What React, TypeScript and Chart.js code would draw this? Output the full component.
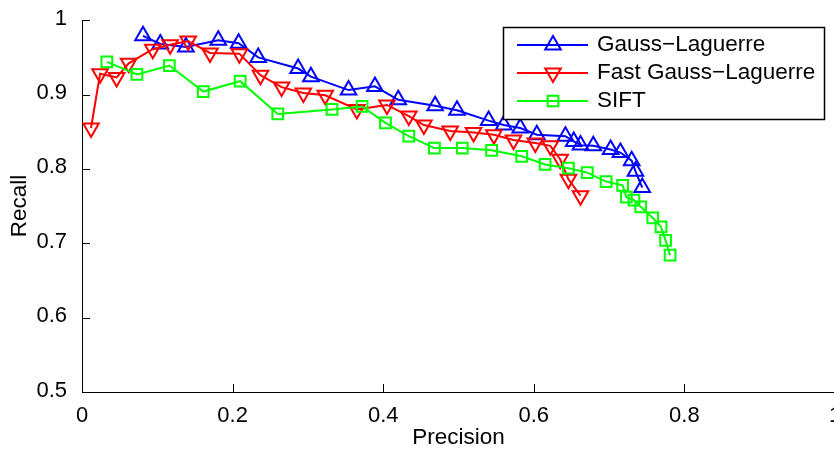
import React, { useEffect, useRef } from 'react';
import { Chart, registerables } from 'chart.js';
import { drawPoint } from 'chart.js/helpers';

Chart.register(...registerables);

const seriesLabels = ['Gauss\u2212Laguerre', 'Fast Gauss\u2212Laguerre', 'SIFT'];
const seriesColors = ['#0000ff', '#ff0000', '#00ff00'];

const gaussPrecision = [0.081, 0.104, 0.138, 0.181, 0.208, 0.234, 0.287, 0.304, 0.354, 0.389, 0.420, 0.469, 0.498, 0.540, 0.560, 0.582, 0.604, 0.642, 0.653, 0.662, 0.679, 0.702, 0.715, 0.730, 0.735, 0.744];
const gaussRecall = [0.979, 0.968, 0.964, 0.973, 0.969, 0.950, 0.935, 0.924, 0.906, 0.911, 0.893, 0.885, 0.879, 0.865, 0.859, 0.855, 0.846, 0.844, 0.837, 0.832, 0.831, 0.826, 0.822, 0.811, 0.797, 0.775];

const fastPrecision = [0.012, 0.024, 0.046, 0.062, 0.094, 0.117, 0.141, 0.170, 0.209, 0.237, 0.265, 0.294, 0.323, 0.365, 0.405, 0.434, 0.454, 0.489, 0.520, 0.547, 0.573, 0.602, 0.622, 0.635, 0.646, 0.662];
const fastRecall = [0.855, 0.928, 0.923, 0.942, 0.961, 0.967, 0.972, 0.956, 0.955, 0.926, 0.910, 0.902, 0.899, 0.880, 0.886, 0.871, 0.859, 0.851, 0.849, 0.846, 0.839, 0.835, 0.831, 0.813, 0.786, 0.764];

const siftPrecision = [0.033, 0.073, 0.116, 0.161, 0.210, 0.260, 0.332, 0.372, 0.403, 0.434, 0.468, 0.505, 0.544, 0.584, 0.615, 0.646, 0.671, 0.696, 0.718, 0.723, 0.733, 0.742, 0.758, 0.769, 0.775, 0.781];
const siftRecall = [0.944, 0.927, 0.939, 0.904, 0.918, 0.874, 0.880, 0.884, 0.862, 0.844, 0.828, 0.828, 0.825, 0.817, 0.806, 0.801, 0.795, 0.783, 0.778, 0.762, 0.758, 0.749, 0.734, 0.722, 0.704, 0.684];

const xTickValues = [0, 0.2, 0.4, 0.6, 0.8, 1];
const xTickLabels = ['0', '0.2', '0.4', '0.6', '0.8', '1'];
const yTickValues = [0.5, 0.6, 0.7, 0.8, 0.9, 1];
const yTickLabels = ['0.5', '0.6', '0.7', '0.8', '0.9', '1'];

const FONT = "'Liberation Sans', Arial, Helvetica, sans-serif";
const CANVAS_W = 880;
const CANVAS_H = 450;

const toPoints = (xs: number[], ys: number[]) => xs.map((x, i) => ({ x, y: ys[i] }));

const markerStyles = [
  { pointStyle: 'triangle', rotation: 0, radius: 9 },
  { pointStyle: 'triangle', rotation: 180, radius: 9 },
  { pointStyle: 'rect', rotation: 0, radius: 7.6 },
];

const inwardTicks = {
  id: 'inwardTicks',
  afterDatasetsDraw(chart: any) {
    const { ctx, scales, chartArea } = chart;
    const xs = scales.x;
    const ys = scales.y;
    ctx.save();
    ctx.strokeStyle = '#000';
    ctx.lineWidth = 1;
    ctx.beginPath();
    xs.ticks.forEach((t: any) => {
      const px = Math.round(xs.getPixelForValue(t.value)) + 0.5;
      ctx.moveTo(px, chartArea.bottom);
      ctx.lineTo(px, chartArea.bottom - 8);
    });
    ys.ticks.forEach((t: any) => {
      const py = Math.round(ys.getPixelForValue(t.value)) + 0.5;
      ctx.moveTo(chartArea.left, py);
      ctx.lineTo(chartArea.left + 8, py);
    });
    ctx.stroke();
    ctx.restore();
  },
};

const boxLegend = {
  id: 'boxLegend',
  afterDraw(chart: any) {
    const { ctx } = chart;
    const left = 503.5, top = 27.5, w = 321, h = 92;
    ctx.save();
    ctx.fillStyle = '#fff';
    ctx.fillRect(left, top, w, h);
    ctx.strokeStyle = '#000';
    ctx.lineWidth = 1.5;
    ctx.strokeRect(left, top, w, h);
    const rows = [45, 73, 101];
    chart.data.datasets.forEach((ds: any, i: number) => {
      const y = rows[i];
      ctx.strokeStyle = ds.borderColor;
      ctx.lineWidth = 2;
      ctx.beginPath();
      ctx.moveTo(517, y);
      ctx.lineTo(588, y);
      ctx.stroke();
      ctx.fillStyle = 'rgba(0,0,0,0)';
      const m = markerStyles[i];
      drawPoint(ctx, { pointStyle: m.pointStyle as any, rotation: m.rotation, radius: m.radius, borderWidth: 2 }, 553, y);
      ctx.fillStyle = '#000';
      ctx.font = `22.5px ${FONT}`;
      ctx.textAlign = 'left';
      ctx.textBaseline = 'middle';
      ctx.fillText(ds.label, 597, y);
    });
    ctx.restore();
  },
};

export default function App() {
  const canvasRef = useRef<HTMLCanvasElement | null>(null);

  useEffect(() => {
    if (!canvasRef.current) return;
    const series = [
      toPoints(gaussPrecision, gaussRecall),
      toPoints(fastPrecision, fastRecall),
      toPoints(siftPrecision, siftRecall),
    ];
    const chart = new Chart(canvasRef.current, {
      type: 'line',
      data: {
        datasets: series.map((pts, i) => ({
          label: seriesLabels[i],
          data: pts,
          borderColor: seriesColors[i],
          backgroundColor: 'rgba(0,0,0,0)',
          borderWidth: 2,
          pointStyle: markerStyles[i].pointStyle as any,
          pointRotation: markerStyles[i].rotation,
          pointRadius: markerStyles[i].radius,
          pointBorderWidth: 2,
          pointBorderColor: seriesColors[i],
          pointBackgroundColor: 'rgba(0,0,0,0)',
          tension: 0,
          fill: false,
          order: 3 - i,
        })),
      },
      options: {
        responsive: false,
        animation: false,
        devicePixelRatio: 1,
        layout: { padding: { top: 16, left: 0, right: CANVAS_W - 835, bottom: 0 } },
        plugins: {
          legend: { display: false },
          tooltip: { enabled: false },
          title: { display: false },
        },
        scales: {
          x: {
            type: 'linear',
            min: 0,
            max: 1,
            afterBuildTicks: (s: any) => {
              s.ticks = xTickValues.map((v) => ({ value: v }));
            },
            afterFit: (s: any) => {
              s.height = CANVAS_H - 392;
            },
            grid: { display: false },
            border: { display: true, color: '#000', width: 1 },
            ticks: {
              color: '#000',
              padding: 3,
              maxRotation: 0,
              autoSkip: false,
              font: { family: FONT, size: 22 },
              callback: (_v: any, i: number) => xTickLabels[i],
            },
            title: {
              display: true,
              text: 'Precision',
              color: '#000',
              font: { family: FONT, size: 22.5, lineHeight: 1 },
              padding: { top: 0, bottom: 1 },
            },
          },
          y: {
            type: 'linear',
            min: 0.5,
            max: 1,
            afterBuildTicks: (s: any) => {
              s.ticks = yTickValues.map((v) => ({ value: v }));
            },
            afterFit: (s: any) => {
              s.width = 82;
            },
            grid: { display: false },
            border: { display: true, color: '#000', width: 1 },
            ticks: {
              color: '#000',
              padding: 7,
              labelOffset: -1.5,
              autoSkip: false,
              font: { family: FONT, size: 22 },
              callback: (_v: any, i: number) => yTickLabels[i],
            },
            title: {
              display: true,
              text: 'Recall',
              color: '#000',
              font: { family: FONT, size: 22.5, lineHeight: 1 },
              padding: { top: 8.5, bottom: 0 },
            },
          },
        },
      },
      plugins: [inwardTicks, boxLegend],
    });
    return () => chart.destroy();
  }, []);

  return (
    <div style={{ position: 'fixed', left: 0, top: 0, width: 834, height: 450, overflow: 'hidden', background: '#fff' }}>
      <canvas ref={canvasRef} width={CANVAS_W} height={CANVAS_H} style={{ width: CANVAS_W, height: CANVAS_H, display: 'block' }} />
    </div>
  );
}
